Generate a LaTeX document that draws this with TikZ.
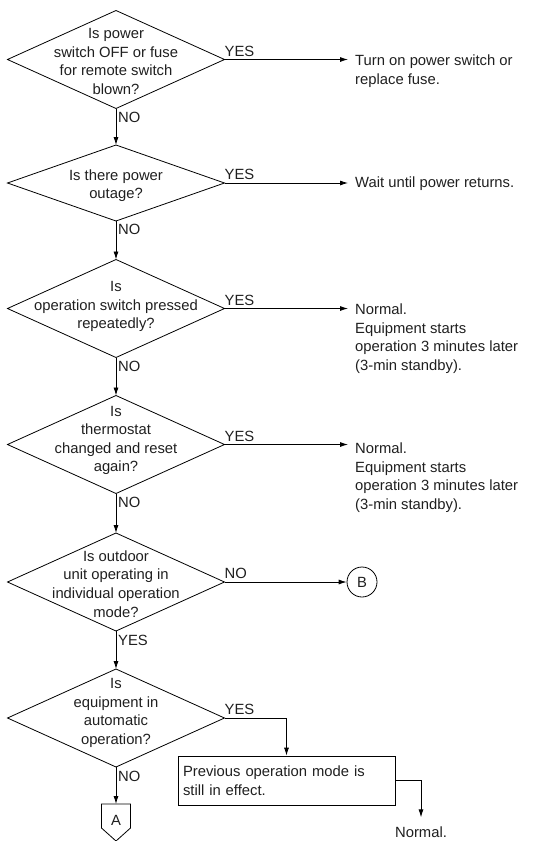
\documentclass[tikz,border=0pt]{standalone}
\usepackage{fontspec}
\setmainfont{Liberation Sans}
\usetikzlibrary{shapes.geometric,arrows.meta}

\begin{document}
\begin{tikzpicture}[x=1pt,y=-1pt,
  every node/.style={font=\fontsize{14.8}{18.6}\selectfont, text=black!88},
  dia/.style={draw, diamond, minimum width=217pt, minimum height=98pt,
    inner sep=0pt, outer sep=0pt, line width=0.8pt},
  qtext/.style={align=center, inner sep=0pt},
  rtext/.style={align=left, anchor=west, inner xsep=7pt, inner ysep=0pt},
  lab/.style={inner sep=0pt},
  arr/.style={line width=0.8pt, -{Latex[length=8pt,width=5pt]}},
  plain/.style={line width=0.8pt}
]
\useasboundingbox (0,0) rectangle (546,841);

% decision diamonds
\node[dia] (d1) at (116,59.5) {};
\node[dia, minimum height=76pt] (d2) at (116,183) {};
\node[dia] (d3) at (116,308.5) {};
\node[dia] (d4) at (116,444.5) {};
\node[dia] (d5) at (116,582) {};
\node[dia] (d6) at (116,718) {};

% questions inside the diamonds
\node[qtext] (q1) at (116,61.5) {Is power\\switch OFF or fuse\\for remote switch\\blown?};
\node[qtext] (q2) at (116,185.5) {Is there power\\outage?};
\node[qtext] (q3) at (116,306.5) {Is\\operation switch pressed\\repeatedly?};
\node[qtext] (q4) at (116,440.5) {Is\\thermostat\\changed and reset\\again?};
\node[qtext] (q5) at (116,584) {Is outdoor\\unit operating in\\individual operation\\mode?};
\node[qtext] (q6) at (116,713) {Is\\equipment in\\automatic\\operation?};

% outcomes on the right
\node[rtext] (r1) at (348,71) {Turn on power switch or\\replace fuse.};
\node[rtext] (r2) at (348,184) {Wait until power returns.};
\node[rtext] (r3) at (348,338.5) {Normal.\\Equipment starts\\operation 3 minutes later\\(3-min standby).};
\node[rtext] (r4) at (348,477.5) {Normal.\\Equipment starts\\operation 3 minutes later\\(3-min standby).};
\node[draw, circle, minimum size=30pt, inner sep=0pt, line width=0.8pt] (B) at (362,582) {B};
\node[draw, line width=0.8pt, minimum width=217pt, minimum height=49pt,
  text width=207pt, inner xsep=5pt, align=left] (box) at (286.5,780.5)
  {Previous operation mode is\\still in effect.};
\node[lab] (n6) at (421,832) {Normal.};

% off-page connector A
\node[lab] (A) at (116,820) {A};
\coordinate (Atop) at (116,804);
\draw[plain] (101.5,804) -- (130.5,804) -- (130.5,828) -- (116,841) -- (101.5,828) -- cycle;

% branch labels
\node[lab, anchor=south west] (y1) at ([yshift=3pt]d1.east) {YES};
\node[lab, anchor=south west] (y2) at ([yshift=3pt]d2.east) {YES};
\node[lab, anchor=south west] (y3) at ([yshift=3pt]d3.east) {YES};
\node[lab, anchor=south west] (y4) at ([yshift=3pt]d4.east) {YES};
\node[lab, anchor=south west] (y5) at ([yshift=3pt]d5.east) {NO};
\node[lab, anchor=south west] (y6) at ([yshift=3pt]d6.east) {YES};
\node[lab, anchor=north west] (m1) at ([xshift=2pt,yshift=-3pt]d1.south) {NO};
\node[lab, anchor=north west] (m2) at ([xshift=2pt,yshift=-3pt]d2.south) {NO};
\node[lab, anchor=north west] (m3) at ([xshift=2pt,yshift=-3pt]d3.south) {NO};
\node[lab, anchor=north west] (m4) at ([xshift=2pt,yshift=-3pt]d4.south) {NO};
\node[lab, anchor=north west] (m5) at ([xshift=2pt,yshift=-4pt]d5.south) {YES};
\node[lab, anchor=north west] (m6) at ([xshift=2pt,yshift=-4pt]d6.south) {NO};

% main flow
\draw[arr] (d1.south) -- (d2.north);
\draw[arr] (d2.south) -- (d3.north);
\draw[arr] (d3.south) -- (d4.north);
\draw[arr] (d4.south) -- (d5.north);
\draw[arr] (d5.south) -- (d6.north);
\draw[arr] (d6.south) -- (Atop);

% side branches
\draw[arr] (d1.east) -- (d1.east -| r1.west);
\draw[arr] (d2.east) -- (d2.east -| r2.west);
\draw[arr] (d3.east) -- (d3.east -| r3.west);
\draw[arr] (d4.east) -- (d4.east -| r4.west);
\draw[arr] (d5.east) -- (B);
\draw[arr] (d6.east) -| (box.north);
\draw[arr, shorten >=9pt] (box.east) -| (n6.north);
\end{tikzpicture}
\end{document}
